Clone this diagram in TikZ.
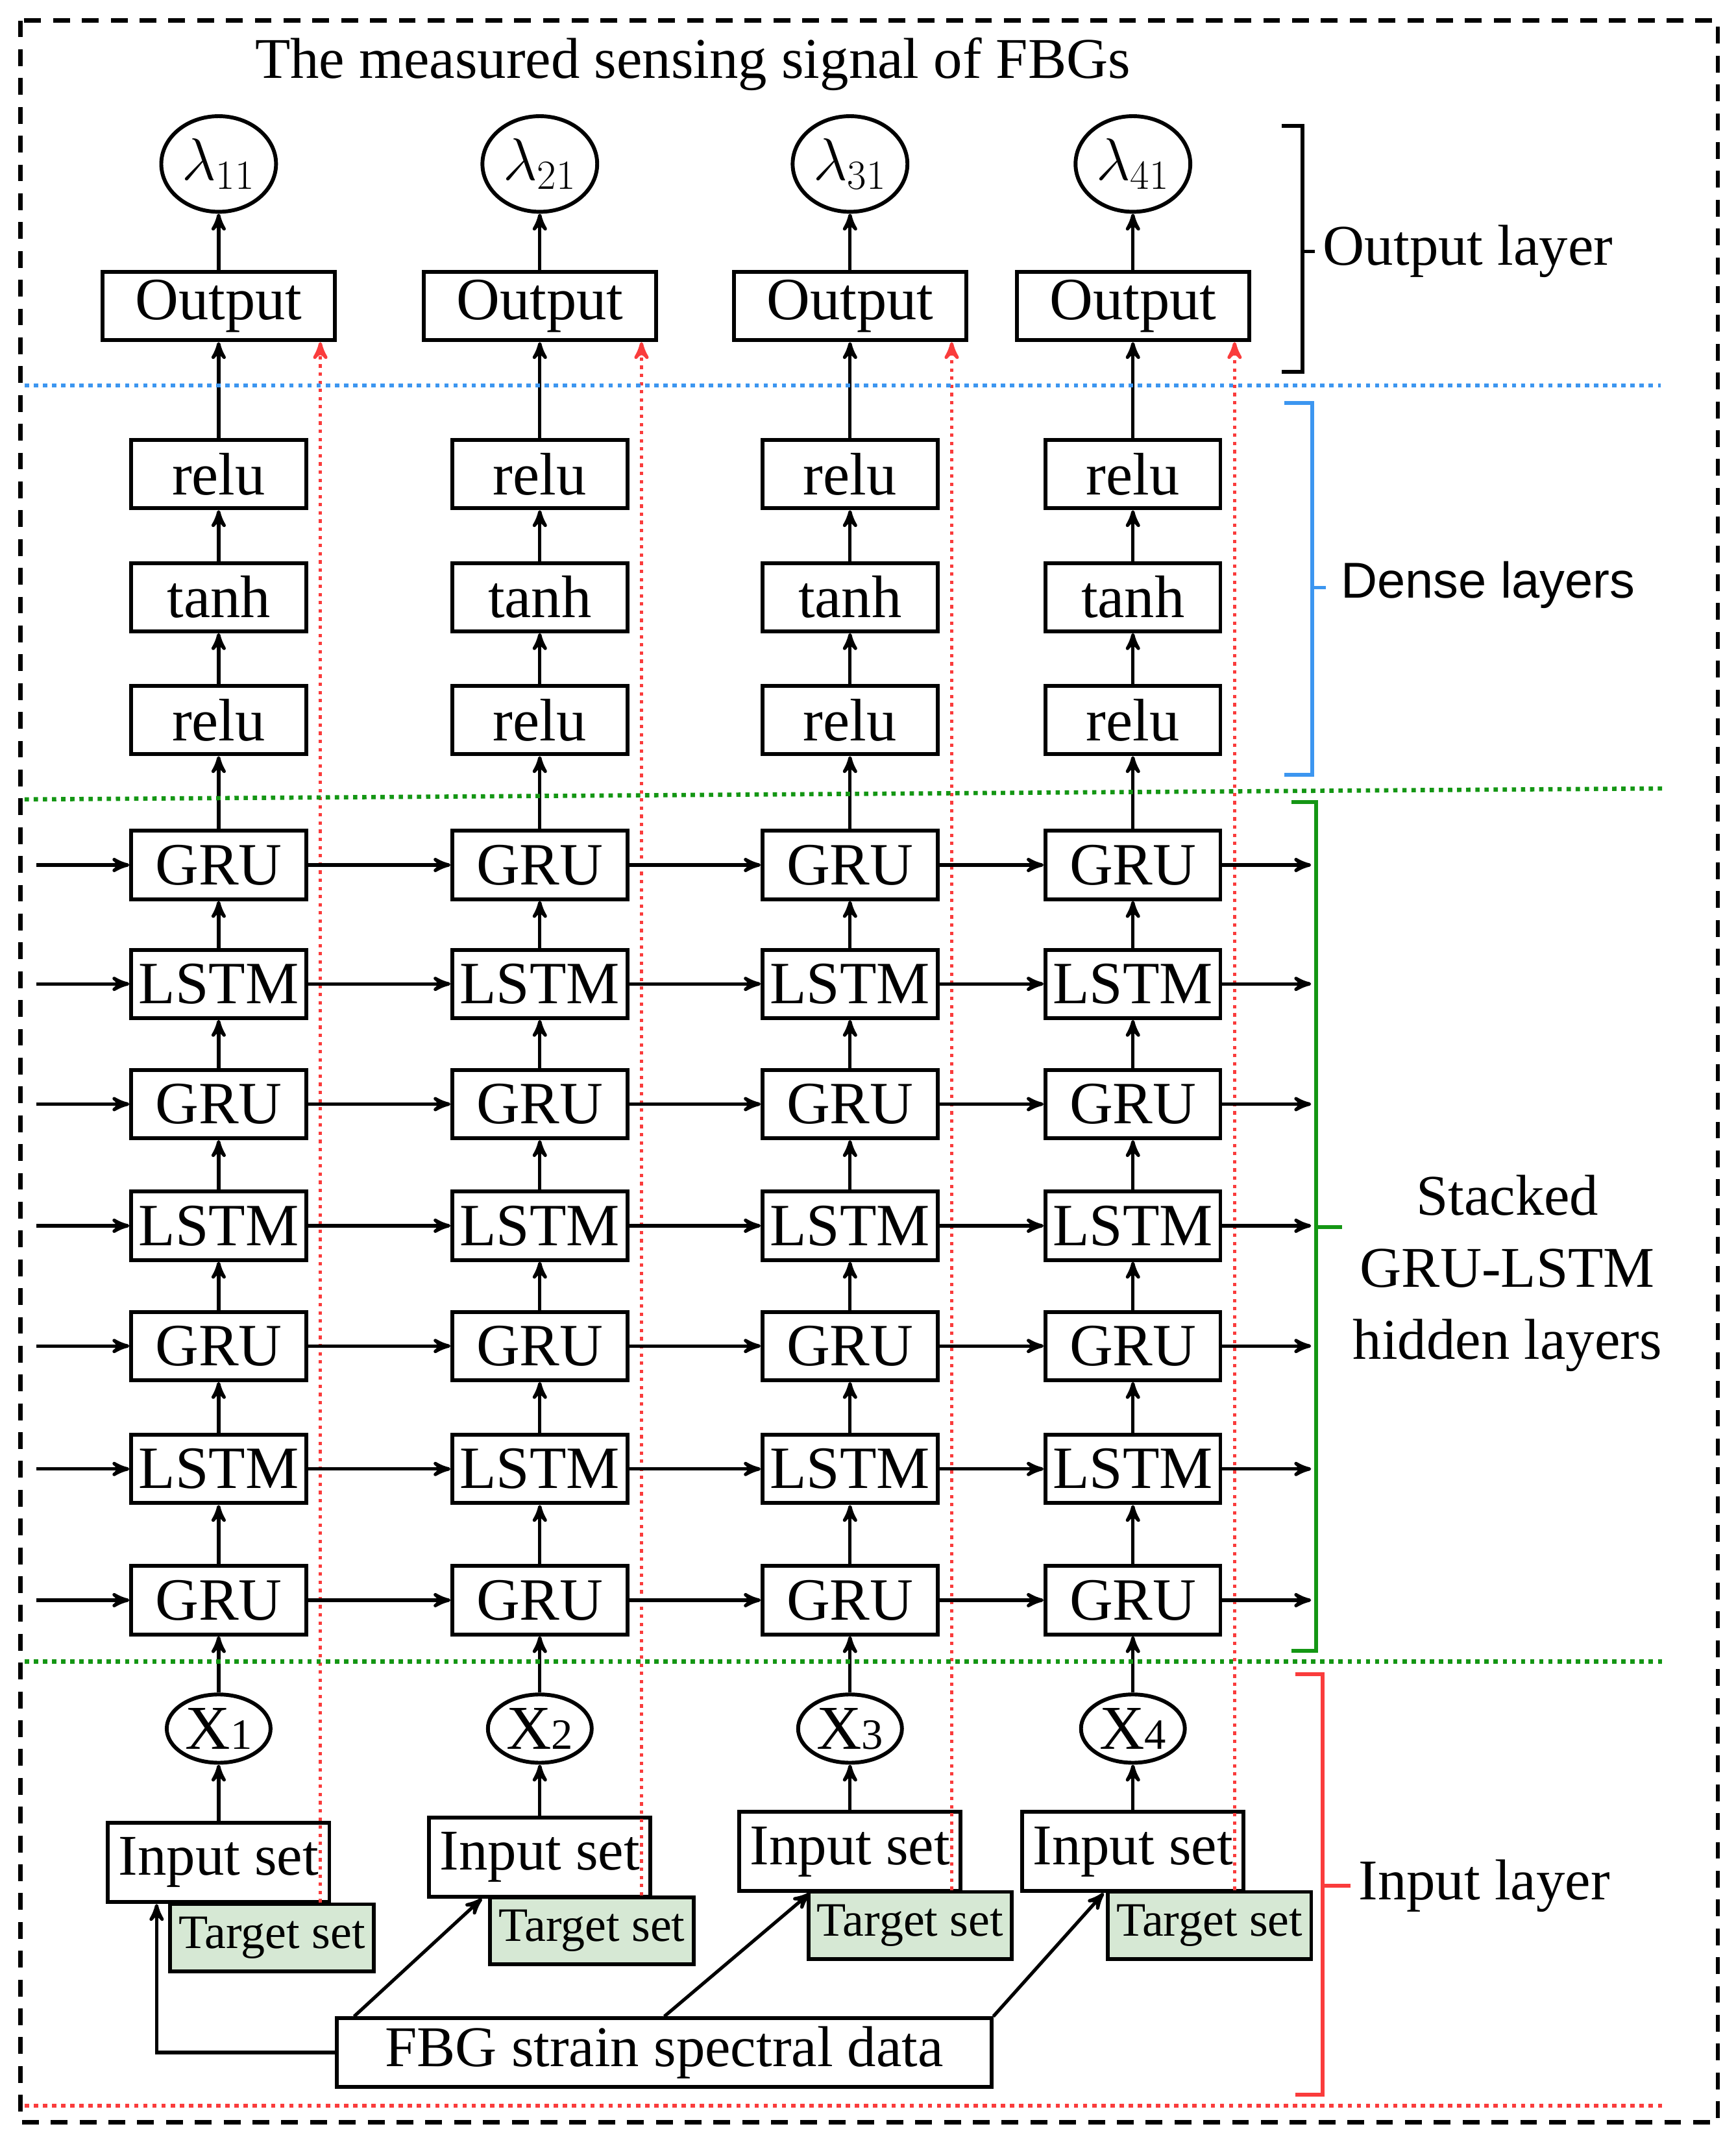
\documentclass[tikz,border=0pt]{standalone}
\usepackage{fontspec}
\setmainfont{Liberation Serif}
\newfontfamily\sansfam{Liberation Sans}
\usetikzlibrary{arrows,shapes,positioning,calc}
\definecolor{tgtgreen}{RGB}{214,232,212}
\definecolor{dotblue}{RGB}{60,150,240}
\definecolor{dotgreen}{RGB}{20,150,20}
\definecolor{dotred}{RGB}{250,60,60}
\begin{document}
\begin{tikzpicture}[x=0.02cm,y=-0.02cm,>=stealth',
        blk/.style={rectangle,draw=black,line width=1.6pt,minimum width=2.56cm,minimum height=1cm,inner sep=1pt,font=\fontsize{25}{27}\selectfont},
        outbox/.style={blk,minimum width=3.4cm},
        inbox/.style={blk,minimum width=3.24cm,minimum height=1.16cm,font=\fontsize{24}{26}\selectfont},
        tgtbox/.style={rectangle,draw=black,line width=1.6pt,fill=tgtgreen,minimum width=2.98cm,minimum height=0.98cm,inner sep=1pt,font=\fontsize{20}{22}\selectfont},
        var/.style={ellipse,draw=black,line width=1.6pt,minimum width=1.68cm,minimum height=1.4cm,inner sep=0pt,font=\fontsize{26}{28}\selectfont},
        xvar/.style={var,minimum width=1.52cm,minimum height=1cm},
        up/.style={->,line width=1.4pt},
        tgt/.style={->,dotted,draw=dotred,line width=1.4pt},
        brk/.style={line width=1.6pt}]

        \useasboundingbox (0,0) rectangle (1270,1569);
        \draw[dash pattern=on 7pt off 5pt,line width=1.8pt] (15,15) rectangle (1257,1553);
        \node [font=\fontsize{24}{26}\selectfont] (title) at (507,47) {The measured sensing signal of FBGs};

        % columns
        \foreach \c/\x/\iy/\ty/\tx in {1/160/1363/1418/199, 2/395/1359/1413/433, 3/622/1355/1409/666, 4/829/1355/1409/885} {
          \node [var]    (lam\c) at (\x,120)  {$\lambda_{\c1}$};
          \node [outbox] (out\c) at (\x,224)  {Output};
          \node [blk]    (ra\c)  at (\x,347)  {relu};
          \node [blk]    (th\c)  at (\x,437)  {tanh};
          \node [blk]    (rb\c)  at (\x,527)  {relu};
          \node [blk]    (h1\c)  at (\x,633)  {GRU};
          \node [blk]    (h2\c)  at (\x,720)  {LSTM};
          \node [blk]    (h3\c)  at (\x,808)  {GRU};
          \node [blk]    (h4\c)  at (\x,897)  {LSTM};
          \node [blk]    (h5\c)  at (\x,985)  {GRU};
          \node [blk]    (h6\c)  at (\x,1075) {LSTM};
          \node [blk]    (h7\c)  at (\x,1171) {GRU};
          \node [xvar]   (x\c)   at (\x,1265) {X\fontsize{18}{20}\selectfont\c};
          \node [inbox]  (in\c)  at (\x,\iy)  {Input set};
          \node [tgtbox] (tg\c)  at (\tx,\ty) {Target set};
          \draw [up] (in\c) -- (x\c);
          \draw [up] (x\c) -- (h7\c);
          \draw [up] (h7\c) -- (h6\c);
          \draw [up] (h6\c) -- (h5\c);
          \draw [up] (h5\c) -- (h4\c);
          \draw [up] (h4\c) -- (h3\c);
          \draw [up] (h3\c) -- (h2\c);
          \draw [up] (h2\c) -- (h1\c);
          \draw [up] (h1\c) -- (rb\c);
          \draw [up] (rb\c) -- (th\c);
          \draw [up] (th\c) -- (ra\c);
          \draw [up] (ra\c) -- (out\c);
          \draw [up] (out\c) -- (lam\c);
          \coordinate (tt\c) at ($(out\c.south east)+(-12,0)$);
          \draw [tgt] (tg\c.north -| tt\c) -- (tt\c);
        }

        % recurrent connections
        \foreach \r in {1,...,7} {
          \coordinate (lft\r) at ($(h\r1.west)+(-68,0)$);
          \coordinate (rgt\r) at ($(h\r4.east)+(65,0)$);
          \draw [up] (lft\r) -- (h\r1);
          \draw [up] (h\r1) -- (h\r2);
          \draw [up] (h\r2) -- (h\r3);
          \draw [up] (h\r3) -- (h\r4);
          \draw [up] (h\r4) -- (rgt\r);
        }

        % data source
        \node [blk,minimum width=9.58cm,font=\fontsize{24}{26}\selectfont] (fbg) at (486,1502) {FBG strain spectral data};
        \draw [up] (fbg.west) -| ($(in1.south west)+(37,0)$);
        \draw [up] ($(fbg.north west)+(14,0)$) -- ($(in2.south west)+(40,0)$);
        \draw [up] ($(fbg.north west)+(241,0)$) -- ($(in3.south west)+(53,0)$);
        \draw [up] (fbg.north east) -- ($(in4.south west)+(61,0)$);

        % layer separators
        \draw [dotted,draw=dotblue,line width=1.8pt]  (18,282)  -- (1215,282);
        \draw [dotted,draw=dotgreen,line width=1.8pt] (18,585)  -- (1218,577);
        \draw [dotted,draw=dotgreen,line width=1.8pt] (18,1216) -- (1218,1216);
        \draw [dotted,draw=dotred,line width=1.8pt]   (18,1541) -- (1218,1541);

        % brackets
        \draw [brk] (938,92) -- (953,92) -- (953,272) -- (938,272);
        \draw [brk] (953,184) -- (962,184);
        \node [anchor=west,font=\fontsize{24}{26}\selectfont] (lout) at (962,184) {Output layer};
        \draw [brk,draw=dotblue] (940,295) -- (960,295) -- (960,567) -- (940,567);
        \draw [brk,draw=dotblue] (960,430) -- (970,430);
        \node [anchor=west,font=\sansfam\fontsize{21}{23}\selectfont] (lden) at (975,428) {Dense layers};
        \draw [brk,draw=dotgreen] (945,587) -- (963,587) -- (963,1208) -- (945,1208);
        \draw [brk,draw=dotgreen] (963,898) -- (982,898);
        \node [align=center,font=\fontsize{24}{30}\selectfont] (lhid) at (1103,932) {Stacked\\GRU-LSTM\\hidden layers};
        \draw [brk,draw=dotred] (948,1225) -- (968,1225) -- (968,1533) -- (948,1533);
        \draw [brk,draw=dotred] (968,1380) -- (988,1380);
        \node [anchor=west,font=\fontsize{24}{26}\selectfont] (linp) at (988,1380) {Input layer};
      \end{tikzpicture}
\end{document}
